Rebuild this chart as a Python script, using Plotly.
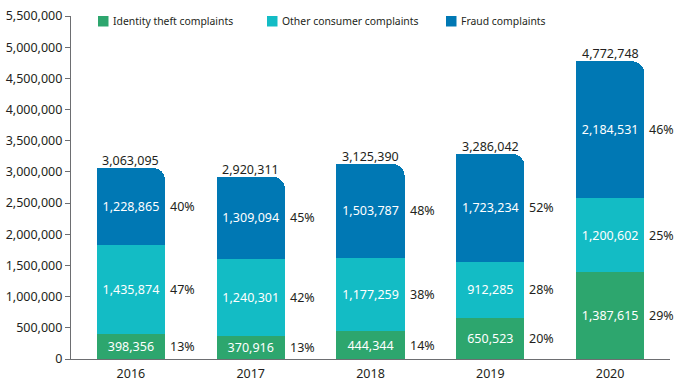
import plotly.graph_objects as go

years = ["2016", "2017", "2018", "2019", "2020"]
identity = [398356, 370916, 444344, 650523, 1387615]
other = [1435874, 1240301, 1177259, 912285, 1200602]
fraud = [1228865, 1309094, 1503787, 1723234, 2184531]
series_names = ["Identity theft complaints", "Other consumer complaints", "Fraud complaints"]
colors = ["#2DA66E", "#13BCC5", "#0078B4"]

base_other = identity
base_fraud = [a + b for a, b in zip(identity, other)]
totals = [a + b + c for a, b, c in zip(identity, other, fraud)]

FONT = "Noto Sans"
DARK = "#231F20"
W = 0.57
FS = 12.5

def fmt(v):
    return f"{v:,}"

fig = go.Figure()

# left half of fraud bar (square top-left corner); explicit base -> overlay, drawn beneath
fig.add_trace(go.Bar(
    x=years, y=fraud, base=base_fraud, width=W / 2, offset=-W / 2,
    marker=dict(color=colors[2], line=dict(width=0)),
    showlegend=False, hoverinfo="skip",
))

for vals, col in [(identity, colors[0]), (other, colors[1]), (fraud, colors[2])]:
    mk = dict(color=col, line=dict(width=0))
    if vals is fraud:
        mk["cornerradius"] = 12
    fig.add_trace(go.Bar(
        x=years, y=vals, width=W, marker=mk,
        text=[fmt(v) for v in vals], textposition="inside",
        insidetextanchor="middle", constraintext="none",
        textfont=dict(color="white", size=FS, family=FONT),
        showlegend=False, hoverinfo="skip",
    ))

annotations = []
for i, yr in enumerate(years):
    for vals, base in [(identity, [0] * 5), (other, base_other), (fraud, base_fraud)]:
        pct = round(vals[i] / totals[i] * 100)
        annotations.append(dict(
            x=i, y=base[i] + vals[i] / 2, xref="x", yref="y",
            text=f"{pct}%", showarrow=False, xanchor="left", yanchor="middle",
            xshift=37, font=dict(size=FS, color=DARK, family=FONT),
        ))
    annotations.append(dict(
        x=i, y=totals[i], xref="x", yref="y", text=fmt(totals[i]),
        showarrow=False, xanchor="center", yanchor="bottom", yshift=-3,
        font=dict(size=FS, color=DARK, family=FONT),
    ))

# manual legend
L, R, T, B = 71, 24, 16, 27
PW, PH = 694 - L - R, 386 - T - B
def px(x):
    return (x - L) / PW
def py(y):
    return (386 - B - y) / PH

shapes = []
leg_x = [98, 267, 446]
for name, col, x0 in zip(series_names, colors, leg_x):
    shapes.append(dict(type="rect", xref="paper", yref="paper",
                       x0=px(x0), x1=px(x0 + 10.5), y0=py(26.5), y1=py(16),
                       fillcolor=col, line=dict(width=0)))
    annotations.append(dict(
        x=px(x0 + 13), y=py(21.5), xref="paper", yref="paper", text=name,
        showarrow=False, xanchor="left", yanchor="middle",
        font=dict(size=10.4, color=DARK, family=FONT),
    ))

fig.update_layout(
    barmode="stack",
    width=694, height=386,
    margin=dict(l=L, r=R, t=T, b=B, autoexpand=False),
    paper_bgcolor="white", plot_bgcolor="white",
    font=dict(family=FONT, size=FS, color=DARK),
    annotations=annotations, shapes=shapes,
    xaxis=dict(type="category", range=[-0.5, 4.5], showline=True, linecolor="#6D6E71",
               linewidth=1.2, ticks="", showgrid=False, automargin=False,
               ticklabelstandoff=3, tickfont=dict(size=FS, color=DARK)),
    yaxis=dict(range=[0, 5500000], dtick=500000, tickformat=",", showline=True,
               linecolor="#6D6E71", linewidth=1.2, ticks="outside", ticklen=5,
               tickcolor="#6D6E71", showgrid=False, zeroline=False, automargin=False,
               tickfont=dict(size=FS, color=DARK)),
)

fig.write_html("out.html", config={"displayModeBar": False},
               post_script="document.body.style.margin='0px';")
